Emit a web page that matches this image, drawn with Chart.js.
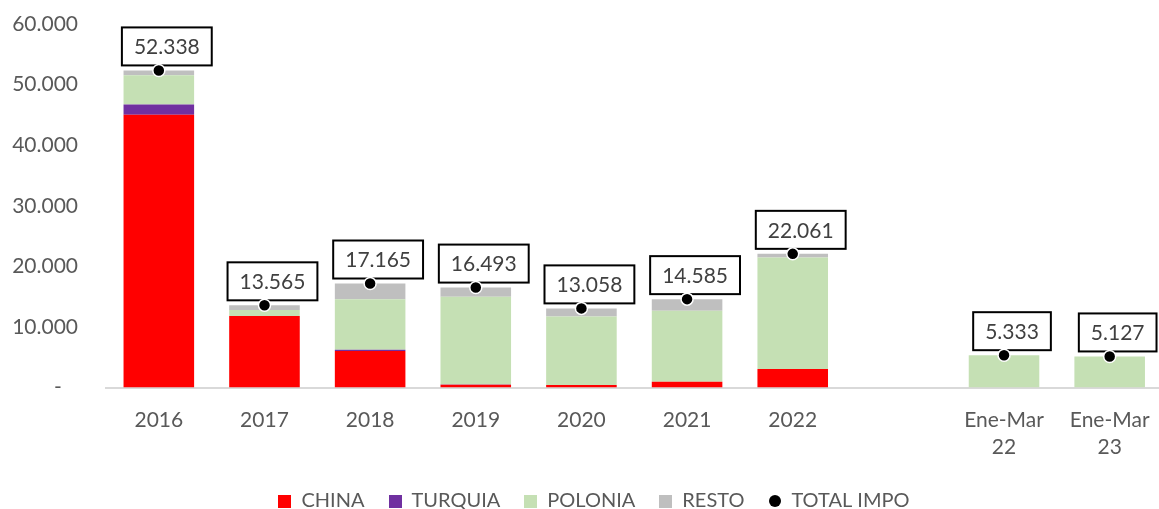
<!DOCTYPE html>
<html><head><meta charset="utf-8">
<script src="https://cdn.jsdelivr.net/npm/chart.js@4"></script>
<style>
html,body{margin:0;padding:0;overflow:hidden;background:#fff;width:1159px;height:509px}
#wrap{position:absolute;left:0;top:0;width:1170px;height:521px}
</style>
</head><body>
<div id="wrap"><canvas id="c" width="1170" height="521"></canvas></div>
<script>
const categories = ['2016','2017','2018','2019','2020','2021','2022','',['Ene-Mar','22'],['Ene-Mar','23']];
const china   = [45040, 11820, 6030,   450,   400,   950,  3050, null,    0,    0];
const turquia = [ 1660,     0,  220,    50,     0,     0,     0, null,    0,    0];
const polonia = [ 4840,   990, 8330, 14500, 11300, 11700, 18400, null, 5333, 5127];
const resto   = [  798,   755, 2585,  1493,  1358,  1935,   611, null,    0,    0];
const totalImpo = [52338, 13565, 17165, 16493, 13058, 14585, 22061, null, 5333, 5127];
const yTicks = [0, 10000, 20000, 30000, 40000, 50000, 60000];

const FONT = 'Lato';
const TXT = '#595959';
Chart.defaults.font.family = FONT;

function fmt(v){ return String(v).replace(/\B(?=(\d{3})+(?!\d))/g, '.'); }
function icon(color, shape, size){
  const c = document.createElement('canvas'); c.width = size; c.height = size;
  const g = c.getContext('2d'); g.fillStyle = color;
  if (shape === 'circle'){ g.beginPath(); g.arc(size/2, size/2, size/2, 0, Math.PI*2); g.fill(); }
  else g.fillRect(0, 0, size, size);
  return c;
}

const colors = ['#FF0000', '#7030A0', '#C5E0B4', '#BFBFBF'];
const icons = [icon(colors[0],'rect',13), icon(colors[1],'rect',13), icon(colors[2],'rect',13), icon(colors[3],'rect',13), icon('#000','circle',12)];

const totalLabels = {
  id: 'totalLabels',
  afterLayout(chart){
    if (chart.legend){ chart.legend.left += 10; chart.legend.right += 10; }
  },
  beforeDatasetsDraw(chart){
    const idx = chart.data.datasets.findIndex(d => d.type === 'line');
    const meta = chart.getDatasetMeta(idx);
    const ctx = chart.ctx;
    ctx.save();
    ctx.font = '21px ' + FONT;
    meta.data.forEach((pt, i) => {
      const v = totalImpo[i]; if (v == null) return;
      const txt = fmt(v);
      const w = ctx.measureText(txt).width + 24, h = 38;
      const cx = pt.x + 8, bottom = pt.y - 5;
      ctx.fillStyle = '#fff'; ctx.fillRect(cx - w/2, bottom - h, w, h);
      ctx.lineWidth = 2; ctx.strokeStyle = '#000'; ctx.strokeRect(cx - w/2, bottom - h, w, h);
      ctx.fillStyle = '#404040'; ctx.textAlign = 'center'; ctx.textBaseline = 'middle';
      ctx.fillText(txt, cx, bottom - h/2 + 1);
    });
    ctx.restore();
  }
};

const barDs = (label, data, color) => ({
  type: 'bar', label, data, backgroundColor: color, borderWidth: 0,
  stack: 's', barPercentage: 0.668, categoryPercentage: 1, order: 1
});

new Chart(document.getElementById('c'), {
  data: {
    labels: categories,
    datasets: [
      barDs('CHINA', china, colors[0]),
      barDs('TURQUIA', turquia, colors[1]),
      barDs('POLONIA', polonia, colors[2]),
      barDs('RESTO', resto, colors[3]),
      { type: 'line', label: 'TOTAL IMPO', data: totalImpo, stack: 't', order: 0,
        showLine: false, pointRadius: 6, pointHoverRadius: 6,
        pointBackgroundColor: '#000', pointBorderColor: '#fff', pointBorderWidth: 1.5,
        backgroundColor: '#000', borderColor: '#000' }
    ]
  },
  options: {
    responsive: false, animation: false, devicePixelRatio: 1,
    layout: { padding: { left: 0, right: 2, top: 24, bottom: 0 } },
    plugins: {
      tooltip: { enabled: false },
      legend: {
        position: 'bottom',
        labels: {
          usePointStyle: true, boxWidth: 13, boxHeight: 13, padding: 24,
          color: TXT, font: { size: 20, family: FONT, lineHeight: 1 },
          sort: (a, b) => a.datasetIndex - b.datasetIndex,
          generateLabels(chart){
            const items = Chart.defaults.plugins.legend.labels.generateLabels(chart);
            items.forEach(it => { it.pointStyle = icons[it.datasetIndex]; });
            return items;
          }
        }
      }
    },
    scales: {
      x: {
        stacked: true,
        grid: { display: false, drawTicks: false },
        border: { display: true, color: '#D9D9D9', width: 2 },
        ticks: { color: TXT, font: { size: 21, family: FONT, lineHeight: 1.3 }, padding: 19, maxRotation: 0, autoSkip: false },
        afterFit(s){ s.height = 79.5; }
      },
      y: {
        stacked: true, min: 0, max: 60000,
        grid: { display: false, drawTicks: false },
        border: { display: false },
        afterBuildTicks(s){ s.ticks = yTicks.map(v => ({ value: v })); },
        ticks: { color: TXT, font: { size: 21, family: FONT }, padding: 28,
          callback: v => v === 0 ? '-   ' : fmt(v) },
        afterFit(s){ s.width = 106; s.paddingTop = 0; s.paddingBottom = 0; }
      }
    }
  },
  plugins: [totalLabels]
});
</script>
</body></html>
